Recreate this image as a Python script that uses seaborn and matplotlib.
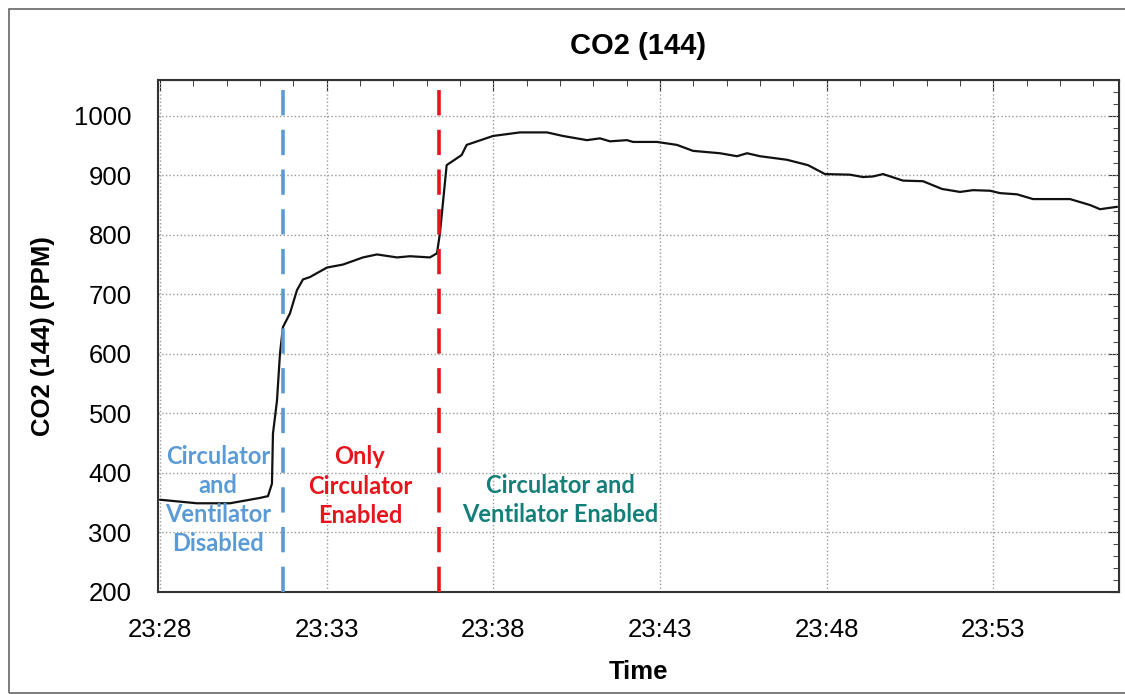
import pandas as pd
import matplotlib.pyplot as plt
import matplotlib.dates as mdates
import matplotlib.patches as patches
import seaborn as sns

# minutes after 23:28 and the CO2 reading (ppm)
minutes = [0.00, 1.11, 2.10, 3.00, 3.24, 3.36, 3.39, 3.51, 3.60, 3.69, 3.90,
           4.11, 4.29, 4.50, 5.01, 5.49, 6.09, 6.51, 7.11, 7.50, 8.10, 8.31,
           8.40, 8.60, 9.05, 9.20, 9.99, 10.80, 11.61, 12.09, 12.81, 13.20,
           13.50, 14.01, 14.19, 14.91, 15.51, 15.99, 16.80, 17.31, 17.61,
           18.00, 18.81, 19.44, 19.95, 20.70, 21.09, 21.39, 21.69, 22.29,
           22.89, 23.46, 24.00, 24.39, 24.90, 25.20, 25.71, 26.19, 27.30,
           27.90, 28.20, 28.71]
co2_ppm = [355, 349, 349, 358, 361, 382, 466, 521, 600, 645, 668,
           707, 725, 729, 745, 750, 762, 767, 762, 764, 762, 769,
           803, 917, 934, 951, 966, 972, 972, 966, 959, 962,
           957, 959, 956, 956, 951, 941, 937, 932, 937,
           932, 926, 917, 902, 901, 897, 898, 902, 891,
           890, 877, 872, 875, 874, 870, 868, 860, 860,
           850, 843, 847]

event_minutes = [3.69, 8.38]
event_colors = ["#5b9bd5", "#e8141c"]

labels = ["Circulator\nand\nVentilator\nDisabled",
          "Only\nCirculator\nEnabled",
          "Circulator and\nVentilator Enabled"]
label_minutes = [1.75, 6.0, 12.0]
label_ppm = [355, 378, 354]
label_colors = ["#5b9bd5", "#e8141c", "#137f78"]

start = pd.Timestamp("2020-01-01 23:28")
df = pd.DataFrame({
    "Time": start + pd.to_timedelta(minutes, unit="min"),
    "CO2": co2_ppm,
})

sns.set_style("white")
plt.rcParams["font.family"] = ["Liberation Sans", "DejaVu Sans"]
plt.rcParams["text.color"] = "black"
plt.rcParams["axes.labelcolor"] = "black"
plt.rcParams["xtick.color"] = "black"
plt.rcParams["ytick.color"] = "black"

fig = plt.figure(figsize=(11.25, 6.94), dpi=100)
ax = fig.add_axes([0.1404, 0.147, 0.8543, 0.7377])

sns.lineplot(data=df, x="Time", y="CO2", color="#111111", lw=1.6, ax=ax)

for m, c in zip(event_minutes, event_colors):
    ax.axvline(start + pd.Timedelta(minutes=m), color=c, lw=2.6,
               dashes=(7, 4), zorder=3)

for txt, m, v, c in zip(labels, label_minutes, label_ppm, label_colors):
    ax.text(start + pd.Timedelta(minutes=m), v, txt, color=c, ha="center",
            va="center", fontsize=17, fontweight="bold", family="Lato",
            linespacing=1.32)

ax.set_xlim(start + pd.Timedelta(minutes=-0.06), start + pd.Timedelta(minutes=28.77))
ax.set_ylim(200, 1060)

ax.xaxis.set_major_locator(mdates.MinuteLocator(byminute=[28, 33, 38, 43, 48, 53, 58]))
ax.xaxis.set_minor_locator(mdates.MinuteLocator())
ax.xaxis.set_major_formatter(mdates.DateFormatter("%H:%M"))
ax.yaxis.set_major_locator(plt.MultipleLocator(100))
ax.yaxis.set_minor_locator(plt.MultipleLocator(20))

ax.grid(True, which="major", color="#9a9a9a", linestyle=":", lw=1.0)
ax.tick_params(which="major", direction="out", length=8, width=1.2,
               labelsize=18.5, color="#222222")
ax.tick_params(axis="x", which="major", pad=11)
ax.tick_params(axis="y", which="major", pad=11)
ax.tick_params(which="minor", direction="inout", length=7, width=1.0,
               color="#222222")
for s in ax.spines.values():
    s.set_color("#333333")
    s.set_linewidth(1.5)

# ticks on top and right pointing inward
top = ax.secondary_xaxis("top")
top.xaxis.set_major_locator(mdates.MinuteLocator(byminute=[28, 33, 38, 43, 48, 53, 58]))
top.xaxis.set_minor_locator(mdates.MinuteLocator())
top.tick_params(which="major", direction="in", length=8, labeltop=False, color="#222222")
top.tick_params(which="minor", direction="in", length=4, color="#222222")
right = ax.secondary_yaxis("right")
right.yaxis.set_major_locator(plt.MultipleLocator(100))
right.yaxis.set_minor_locator(plt.MultipleLocator(20))
right.tick_params(which="major", direction="in", length=8, labelright=False, color="#222222")
right.tick_params(which="minor", direction="in", length=4, color="#222222")

ax.set_title("CO2 (144)", fontsize=21, fontweight="bold", pad=19)
ax.set_xlabel("Time", fontsize=18.5, fontweight="bold", labelpad=13)
ax.set_ylabel("CO2 (144) (PPM)", fontsize=18.5, fontweight="bold", labelpad=14)

# thin frame around the whole picture
fig.patches.append(patches.Rectangle((9 / 1125, 1 / 694), 1.02, 684 / 694,
                                     transform=fig.transFigure, fill=False,
                                     edgecolor="#666666", lw=1.2))

fig.savefig("out.png", dpi=100)
